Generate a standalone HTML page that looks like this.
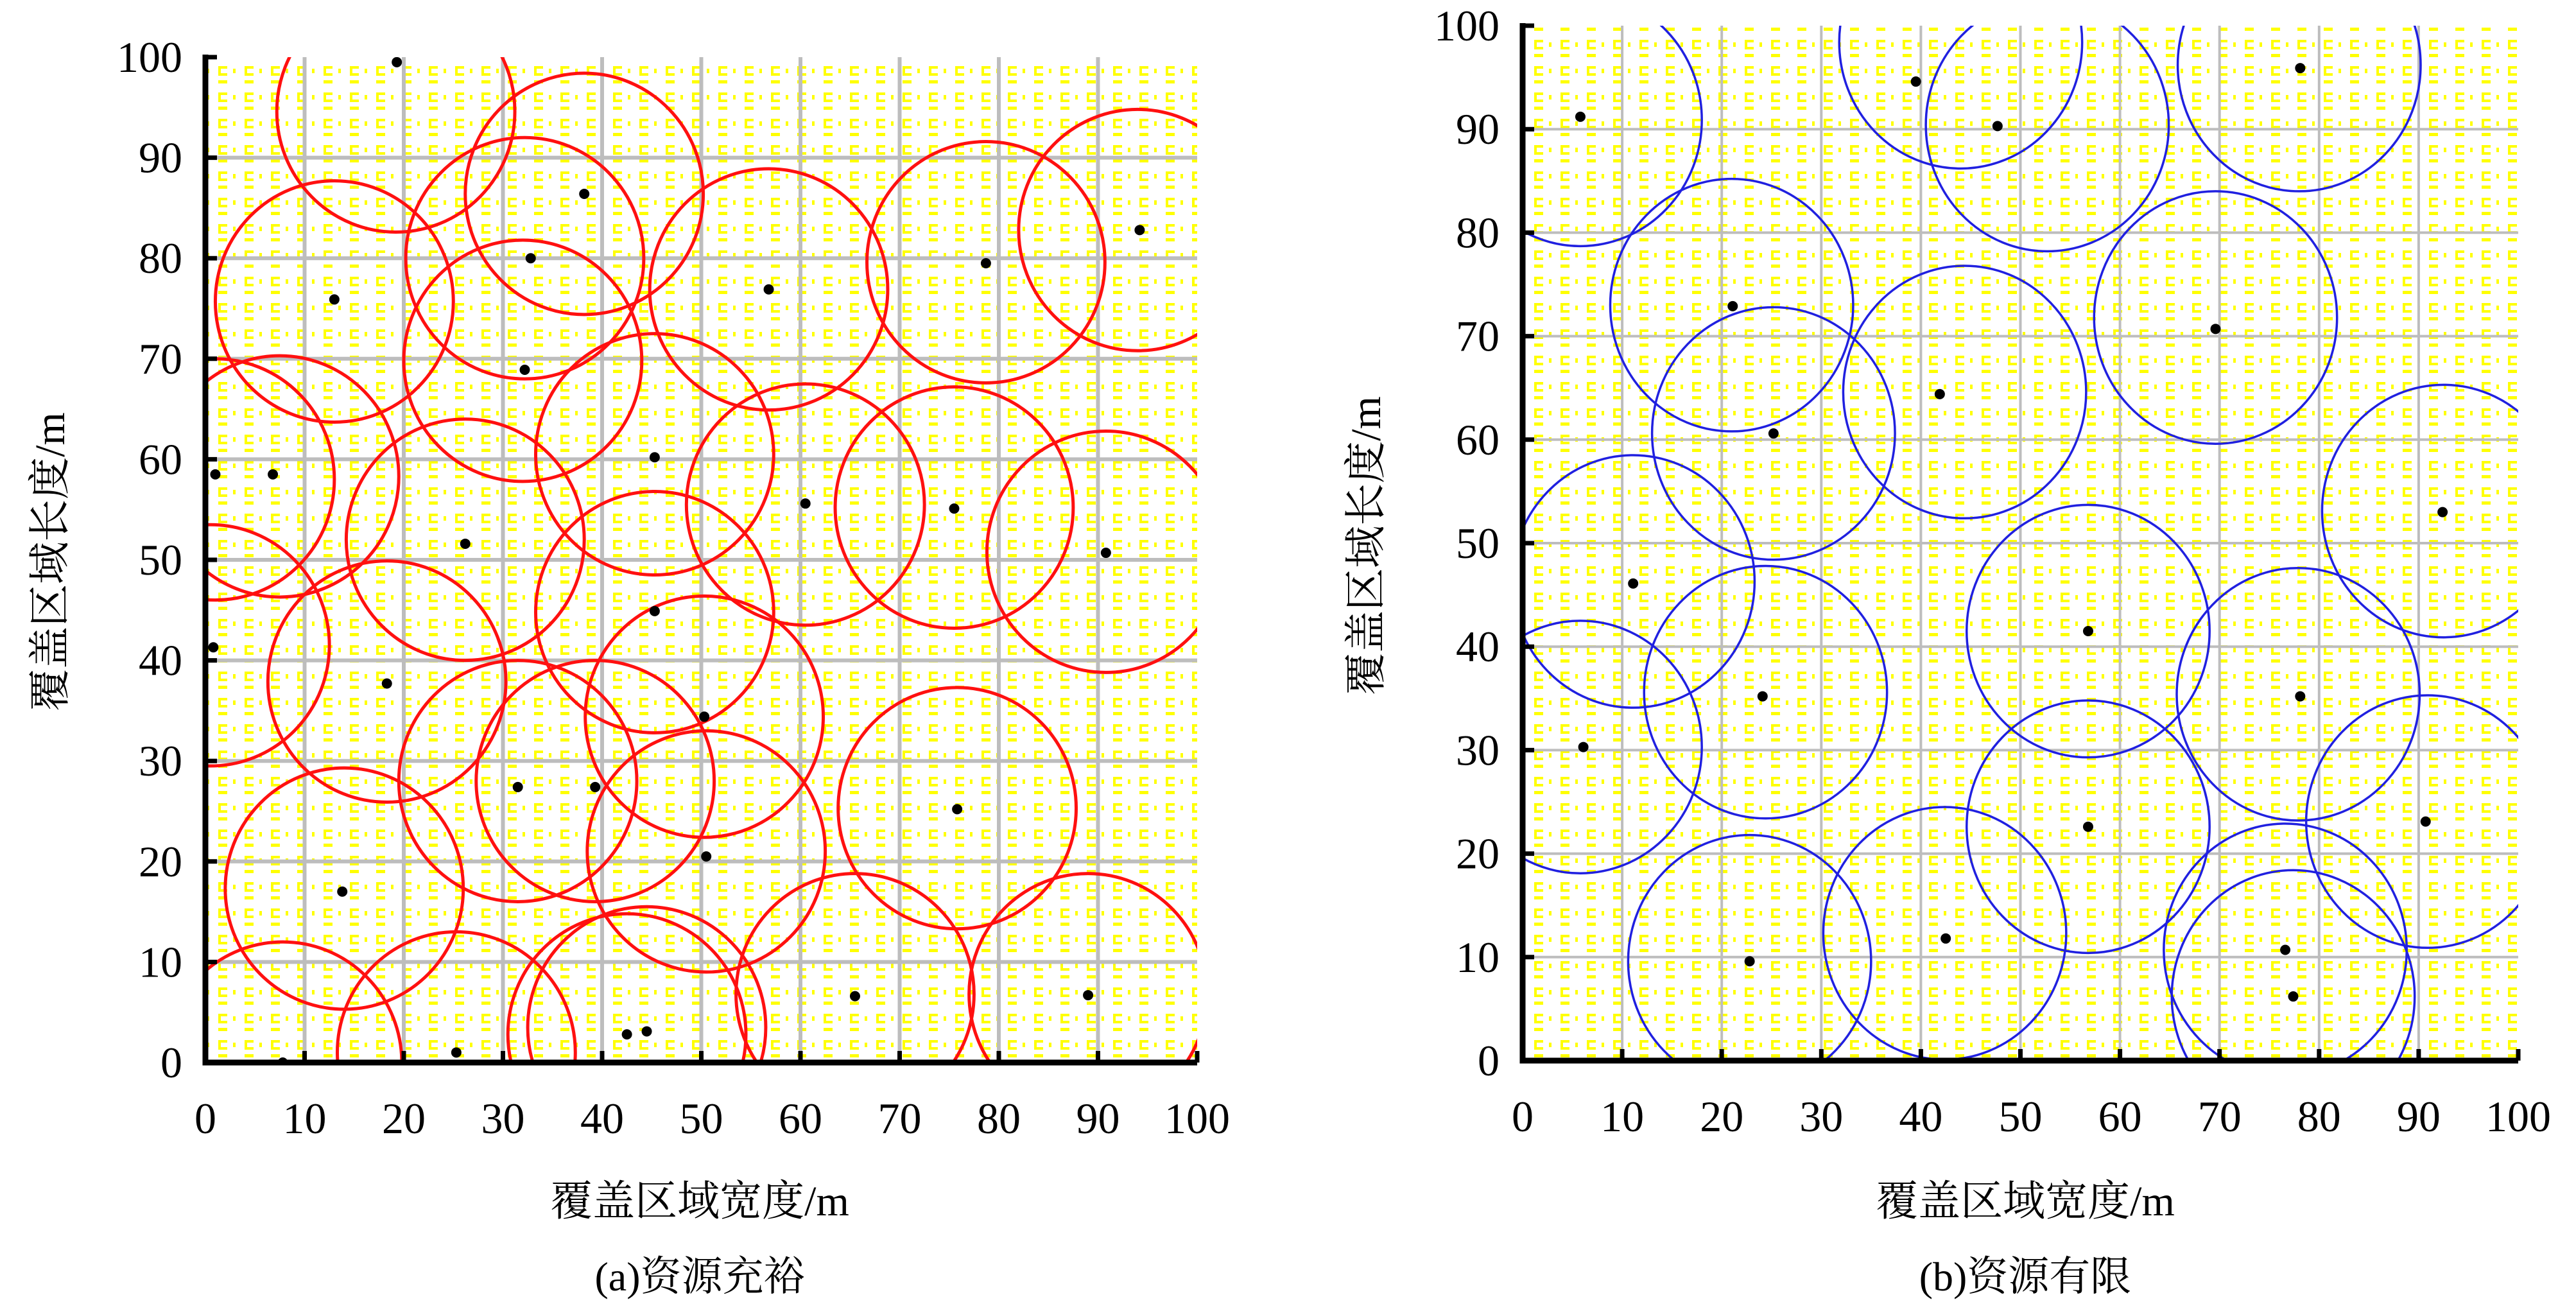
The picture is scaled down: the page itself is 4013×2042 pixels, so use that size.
<!DOCTYPE html>
<html><head><meta charset="utf-8"><style>
html,body{margin:0;padding:0;background:#fff;}
svg{display:block;}
text{font-family:"Liberation Serif","Noto Serif CJK SC","Noto Sans CJK SC",serif;fill:#000;}
</style></head><body>
<svg id="fig" width="4013" height="2042" viewBox="0 0 4013 2042" xmlns="http://www.w3.org/2000/svg">
<defs>
<pattern id="yp" x="0" y="0" width="41" height="41" patternUnits="userSpaceOnUse">
<rect x="12" y="2" width="14" height="5" fill="#ffff00"/>
<rect x="12" y="21" width="14" height="4" fill="#ffff00"/>
<rect x="12" y="32" width="14" height="4" fill="#ffff00"/>
<rect x="12" y="21" width="4" height="15" fill="#ffff00"/>
<rect x="35" y="25" width="4" height="7" fill="#ffff00"/>
</pattern>
<clipPath id="clipA"><rect x="320" y="89" width="1545" height="1566"/></clipPath>
<clipPath id="clipB"><rect x="2372" y="40" width="1551" height="1612"/></clipPath>
</defs>
<g id="panelA"></g>
<g id="panelB"></g>
</svg>
<script>
const ticks = [0,10,20,30,40,50,60,70,80,90,100];
const xTitle = "覆盖区域宽度/m";
const yTitle = "覆盖区域长度/m";
const captionA = "(a)资源充裕";
const captionB = "(b)资源有限";
const radiusA = 12;
const radiusB = 12.2;
const circlesAx = [19.2,13,38.2,32.2,32,56.8,78.7,94,45.3,60.5,75.5,90.8,7.5,1,26.2,45.3,50.3,18.3,0.5,31.5,39.3,50.5,75.8,14,7.8,25.3,42.5,44.5,65.5,89];
const circlesAy = [94.6,75.7,86.4,80,69.8,76.9,79.6,82.8,60.5,55.5,55.2,50.8,58.3,58,52,44.8,34.4,37.9,41.5,28,28,21,25.3,17.3,0,1,2.8,3.5,6.8,6.8];
const dotsAx = [19.3,38.2,13,32.8,56.8,78.7,94.2,32.2,1,6.8,26.2,45.3,60.5,75.5,90.8,0.8,18.3,45.3,50.3,31.5,39.3,50.5,75.8,13.8,65.5,89,25.3,42.5,44.5,7.8];
const dotsAy = [99.5,86.4,75.9,80,76.9,79.5,82.8,68.9,58.5,58.5,51.6,60.2,55.6,55.1,50.7,41.3,37.7,44.9,34.4,27.4,27.4,20.5,25.2,17,6.6,6.7,1,2.8,3.1,0];
const circlesBx = [5.8,44,52.7,78,21,69.6,44.4,25.2,92.5,11.1,56.8,24.4,77.9,5.8,90.9,56.8,22.8,42.4,76.6,77.4];
const circlesBy = [90.9,98.4,90.4,96.2,73,71.8,64.6,60.6,53.1,46.3,41.5,35.6,35.4,30.3,23.1,22.6,9.6,12.3,10.7,6.2];
const dotsBx = [5.8,39.5,47.7,78.1,21.1,69.6,41.9,25.2,92.4,11.1,56.8,24.1,78.1,6.1,90.7,56.8,22.8,42.5,76.6,77.4];
const dotsBy = [91.2,94.6,90.3,95.9,72.9,70.7,64.4,60.6,53,46.1,41.5,35.2,35.2,30.3,23.1,22.6,9.6,11.8,10.7,6.2];

const NS="http://www.w3.org/2000/svg";
const FF='"Liberation Serif","Noto Serif CJK SC","Noto Sans CJK SC",serif';
function mk(tag,attrs,parent){const e=document.createElementNS(NS,tag);for(const k in attrs)e.setAttribute(k,attrs[k]);parent.appendChild(e);return e;}

function panel(g,cfg){
  const sx=v=>cfg.x0+(cfg.x1-cfg.x0)*v/100;
  const sy=v=>cfg.y0-(cfg.y0-cfg.y1)*v/100;
  const bg=mk('rect',{x:sx(0),y:sy(100),width:sx(100)-sx(0),height:sy(0)-sy(100),fill:'url(#yp)'},g);
  
  
  const grid=mk('g',{},g);
  
  
  ticks.forEach(t=>{
    if(t>0&&t<100){
      mk('line',{x1:sx(t),x2:sx(t),y1:sy(0),y2:sy(100),stroke:'#bdbdbd','stroke-width':cfg.gw},grid);
      mk('line',{x1:sx(0),x2:sx(100),y1:sy(t),y2:sy(t),stroke:'#bdbdbd','stroke-width':cfg.gw},grid);
    }
  });
  const cg=mk('g',{'clip-path':cfg.clip},g);
  
  
  cfg.cx.forEach((cx,i)=>{
    const c=mk('ellipse',{cx:sx(cx),cy:sy(cfg.cy[i]),rx:(sx(cfg.r)-sx(0)),ry:(sy(0)-sy(cfg.r)),fill:'none',stroke:cfg.color,'stroke-width':cfg.cw},cg);
    
    
  });
  const dg=mk('g',{'clip-path':cfg.clip},g);
  
  
  cfg.dx.forEach((dx,i)=>{
    const d=mk('circle',{cx:sx(dx),cy:sy(cfg.dy[i]),r:8,fill:'#000'},dg);
    
    
  });
  const ax=mk('g',{},g);
  
  
  mk('path',{d:`M${sx(0)},${sy(100)-4} V${sy(0)} H${sx(100)}`,fill:'none',stroke:'#000','stroke-width':9},ax);
  ticks.forEach(t=>{
    mk('line',{x1:sx(t),x2:sx(t),y1:sy(0),y2:sy(0)-18,stroke:'#000','stroke-width':7},ax);
    mk('line',{x1:sx(0),x2:sx(0)+18,y1:sy(t),y2:sy(t),stroke:'#000','stroke-width':7},ax);
    const xl=mk('text',{x:sx(t),y:sy(0)+110,'text-anchor':'middle','font-size':68,'font-family':FF},ax);
    xl.textContent=t;
    
    
    const yl=mk('text',{x:sx(0)-36,y:sy(t)+23,'text-anchor':'end','font-size':68,'font-family':FF},ax);
    yl.textContent=t;
    
    
  });
  const xt=mk('text',{x:cfg.tx,y:1893,'text-anchor':'middle','font-size':66,'font-family':FF},g);
  xt.textContent=xTitle;
  
  
  const yt=mk('text',{x:0,y:0,'text-anchor':'middle','font-size':66,'font-family':FF,transform:`translate(${cfg.ytx},${cfg.yty}) rotate(-90)`},g);
  yt.textContent=yTitle;
  
  
  const cap=mk('text',{x:cfg.tx,y:2010,'text-anchor':'middle','font-size':64,'font-family':FF},g);
  cap.textContent=cfg.caption;
  
  
}
panel(document.getElementById('panelA'),{x0:320,x1:1865,y0:1655,y1:89,clip:'url(#clipA)',color:'#ff1010',cw:5,gw:6,r:radiusA,cx:circlesAx,cy:circlesAy,dx:dotsAx,dy:dotsAy,tx:1090,ytx:100,yty:875,caption:captionA});
panel(document.getElementById('panelB'),{x0:2372,x1:3923,y0:1652,y1:40,clip:'url(#clipB)',color:'#2020e0',cw:3.5,gw:4,r:radiusB,cx:circlesBx,cy:circlesBy,dx:dotsBx,dy:dotsBy,tx:3155,ytx:2150,yty:850,caption:captionB});
</script>
</body></html>
